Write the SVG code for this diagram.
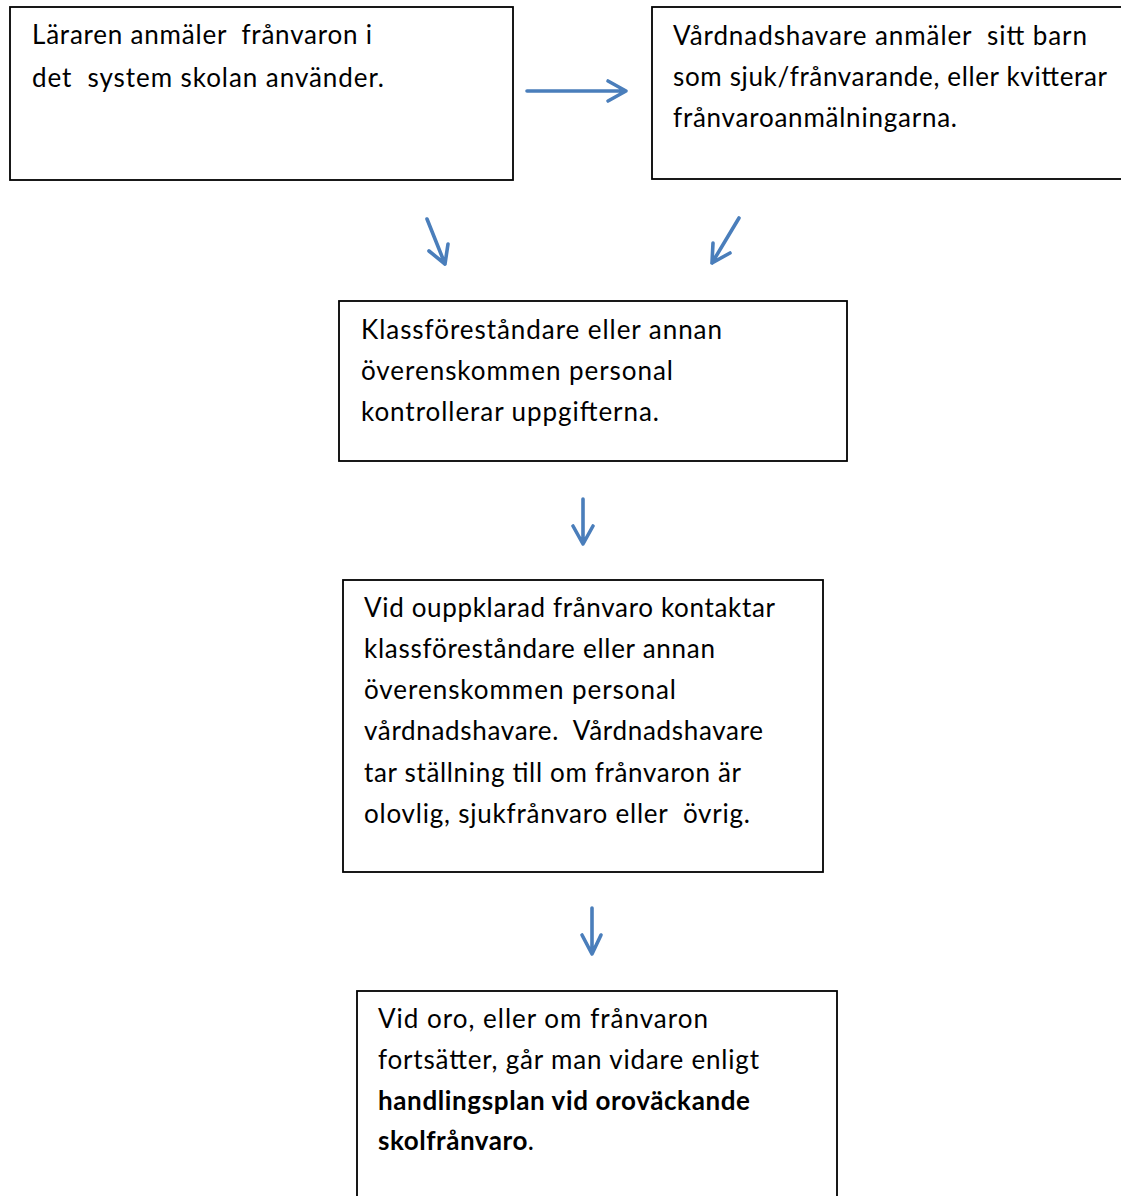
<svg xmlns="http://www.w3.org/2000/svg" width="1121" height="1196" viewBox="0 0 1121 1196">
<style>
.box{fill:#ffffff;stroke:#000000;stroke-width:1.8}
.t{font-family:Lato,"Liberation Sans",sans-serif;font-size:26px;fill:#000000;white-space:pre}
.b{font-weight:bold}
.arr{fill:none;stroke:#4A7EBB;stroke-width:3.6;stroke-linecap:round;stroke-linejoin:round}
</style>
<rect width="1121" height="1196" fill="#ffffff"/>
<g id="node1">
<rect class="box" x="10" y="7" width="503" height="173"/>
<text class="t" x="32" y="44" textLength="340" lengthAdjust="spacing">Läraren anmäler  frånvaron i</text>
<text class="t" x="32" y="87" textLength="352" lengthAdjust="spacing">det  system skolan använder.</text>
</g>
<g id="node2">
<rect class="box" x="652" y="7" width="480" height="172"/>
<text class="t" x="673" y="45" textLength="414" lengthAdjust="spacing">Vårdnadshavare anmäler  sitt barn</text>
<text class="t" x="673" y="86" textLength="434" lengthAdjust="spacing">som sjuk/frånvarande, eller kvitterar</text>
<text class="t" x="673" y="127" textLength="284" lengthAdjust="spacing">frånvaroanmälningarna.</text>
</g>
<g id="node3">
<rect class="box" x="339" y="301" width="508" height="160"/>
<text class="t" x="361" y="339" textLength="361" lengthAdjust="spacing">Klassföreståndare eller annan</text>
<text class="t" x="361" y="380" textLength="312" lengthAdjust="spacing">överenskommen personal</text>
<text class="t" x="361" y="421" textLength="298" lengthAdjust="spacing">kontrollerar uppgifterna.</text>
</g>
<g id="node4">
<rect class="box" x="343" y="580" width="480" height="292"/>
<text class="t" x="364" y="617" textLength="411" lengthAdjust="spacing">Vid ouppklarad frånvaro kontaktar</text>
<text class="t" x="364" y="658" textLength="351" lengthAdjust="spacing">klassföreståndare eller annan</text>
<text class="t" x="364" y="699" textLength="312" lengthAdjust="spacing">överenskommen personal</text>
<text class="t" x="364" y="740" textLength="399" lengthAdjust="spacing">vårdnadshavare.  Vårdnadshavare</text>
<text class="t" x="364" y="782" textLength="377" lengthAdjust="spacing">tar ställning till om frånvaron är</text>
<text class="t" x="364" y="823" textLength="386" lengthAdjust="spacing">olovlig, sjukfrånvaro eller  övrig.</text>
</g>
<g id="node5">
<rect class="box" x="357" y="991" width="480" height="230"/>
<text class="t" x="378" y="1028" textLength="330" lengthAdjust="spacing">Vid oro, eller om frånvaron</text>
<text class="t" x="378" y="1069" textLength="381" lengthAdjust="spacing">fortsätter, går man vidare enligt</text>
<text class="t b" x="378" y="1110" textLength="372" lengthAdjust="spacing">handlingsplan vid oroväckande</text>
<text class="t" x="378" y="1150" textLength="156" lengthAdjust="spacing"><tspan class="b">skolfrånvaro</tspan>.</text>
</g>
<g id="connectors">
<path class="arr" d="M527 91 L626 91 M608 81 L626 91 L608 101"/>
<path class="arr" d="M427 219 L445 264 M429 251 L445 264 L448 244"/>
<path class="arr" d="M739 218 L712 263 M713 243 L712 263 L730 253"/>
<path class="arr" d="M583 499 L583 544 M573 526 L583 544 L593 526"/>
<path class="arr" d="M592 908 L592 954 M582 935 L592 954 L601 935"/>
</g>
</svg>
